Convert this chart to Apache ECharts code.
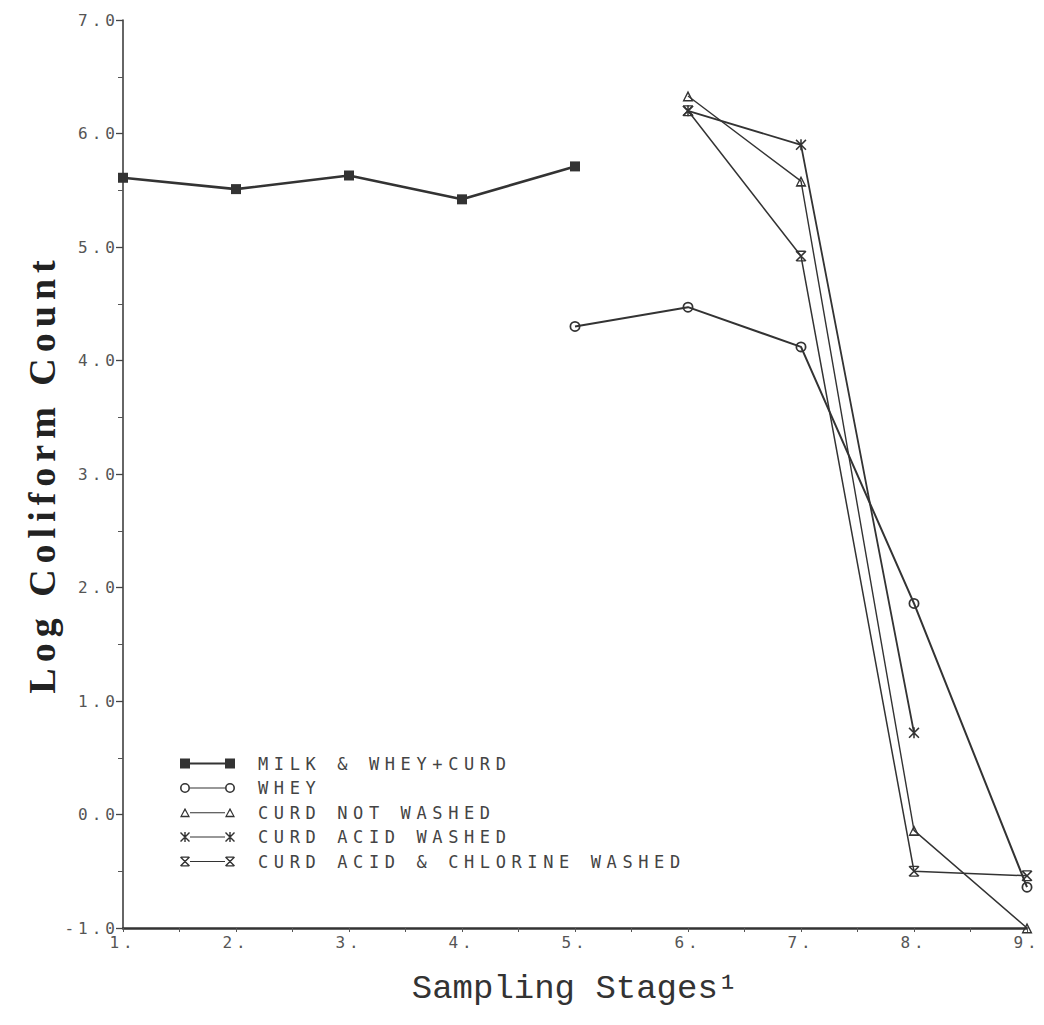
<!DOCTYPE html>
<html>
  <head>
    <meta charset="utf-8" />
    <title>Log Coliform Count by Sampling Stage</title>
    <script src="https://cdn.jsdelivr.net/npm/echarts@6/dist/echarts.min.js"></script>
    <style>
      html, body { margin: 0; padding: 0; background: #fff; }
      #main { width: 1044px; height: 1025px; }
      /* plotter look: spaced-out lettering */
      #main text[style*="DejaVu Sans Mono"][style*="17px"] { letter-spacing: 0.33em; }
      #main text[style*="DejaVu Sans Mono"][style*="16px"] { letter-spacing: 0.25em; }
      #main text[style*="Liberation Serif"] { letter-spacing: 6px; }
    </style>
  </head>
  <body>
    <div id="main"></div>
    <script>
      // data
      var stages = [1, 2, 3, 4, 5, 6, 7, 8, 9]
      var milkWheyCurd = [5.61, 5.51, 5.63, 5.42, 5.71, null, null, null, null]
      var whey = [null, null, null, null, 4.30, 4.47, 4.12, 1.86, -0.64]
      var curdNotWashed = [null, null, null, null, null, 6.33, 5.58, -0.14, -1.0]
      var curdAcidWashed = [null, null, null, null, null, 6.20, 5.90, 0.72, null]
      var curdAcidChlorine = [null, null, null, null, null, 6.20, 4.92, -0.50, -0.54]
      var yTicks = { min: -1, max: 7, step: 1 }

      var seriesNames = [
        'MILK & WHEY+CURD',
        'WHEY',
        'CURD NOT WASHED',
        'CURD ACID WASHED',
        'CURD ACID & CHLORINE WASHED'
      ]

      function pairs(vals) {
        var out = []
        for (var i = 0; i < stages.length; i++) {
          if (vals[i] !== null) out.push([stages[i], vals[i]])
        }
        return out
      }

      // marker shapes, drawn in a 10x10 box starting at dx
      function square(dx) {
        return 'M' + dx + ',0h10v10h-10Z'
      }
      function ring(dx) {
        return 'M' + dx + ',5a5,5 0 1,0 10,0a5,5 0 1,0 -10,0Z' +
          'M' + (dx + 1.6) + ',5a3.4,3.4 0 1,1 6.8,0a3.4,3.4 0 1,1 -6.8,0Z'
      }
      function triangle(dx) {
        return 'M' + (dx + 5) + ',0l5,9.5h-10Z' +
          'M' + (dx + 5) + ',2.8l-3,5.3h6Z'
      }
      function cross(dx) {
        return 'M' + dx + ',1l1,-1l9,9l-1,1Z' +
          'M' + (dx + 9) + ',0l1,1l-9,9l-1,-1Z'
      }
      function asterisk(dx) {
        return cross(dx) + 'M' + (dx + 4.3) + ',0h1.4v10h-1.4Z'
      }
      function barredCross(dx) {
        return cross(dx) + 'M' + (dx + 1) + ',0h8v1.2h-8Z' +
          'M' + (dx + 1) + ',8.8h8v1.2h-8Z'
      }
      var markers = [square, ring, triangle, asterisk, barredCross]
      var lineWidths = [2.6, 2, 1.4, 1.8, 1.5]
      var markerSizes = [10, 11, 11, 11, 11]

      function legendIcon(fn, thick) {
        var h = thick ? 1.1 : 0.6
        return 'path://' + fn(0) +
          'M10,' + (5 - h) + 'h35v' + 2 * h + 'h-35Z' + fn(45)
      }

      var allValues = [milkWheyCurd, whey, curdNotWashed, curdAcidWashed, curdAcidChlorine]
      var series = []
      var legendData = []
      for (var k = 0; k < seriesNames.length; k++) {
        series.push({
          name: seriesNames[k],
          type: 'line',
          data: pairs(allValues[k]),
          clip: false,
          symbol: 'path://' + markers[k](0),
          symbolSize: markerSizes[k],
          itemStyle: { color: '#333' },
          lineStyle: { color: '#333', width: lineWidths[k] },
          emphasis: { disabled: true },
          animation: false
        })
        legendData.push({ name: seriesNames[k], icon: legendIcon(markers[k], k === 0) })
      }

      var plotFont = 'DejaVu Sans Mono'

      var myChart = echarts.init(document.getElementById('main'), null, { renderer: 'svg' })
      var option = {
        backgroundColor: '#fff',
        animation: false,
        grid: { left: 123, right: 17, top: 20, bottom: 97 },
        legend: {
          orient: 'vertical',
          left: 175,
          top: 750,
          itemWidth: 55,
          itemHeight: 10,
          itemGap: 7.5,
          itemStyle: { borderWidth: 0 },
          selectedMode: false,
          data: legendData,
          textStyle: {
            fontFamily: plotFont,
            fontSize: 17,
            lineHeight: 17,
            color: '#444',
            padding: [0, 0, 0, 18]
          }
        },
        xAxis: {
          type: 'value',
          min: 1,
          max: 9,
          interval: 1,
          name: 'Sampling Stages\u00b9',
          nameLocation: 'middle',
          nameGap: 44,
          nameTextStyle: { fontFamily: 'Liberation Mono', fontSize: 34, color: '#333' },
          axisLine: { onZero: false, lineStyle: { color: '#333', width: 2.5 } },
          axisTick: { show: true, inside: false, length: 4, lineStyle: { color: '#555', width: 1 } },
          minorTick: { show: true, splitNumber: 2, length: 4, lineStyle: { color: '#555', width: 1 } },
          splitLine: { show: false },
          axisLabel: {
            fontFamily: plotFont,
            fontSize: 16,
            color: '#555',
            margin: 6,
            formatter: function (v) { return v + '.' }
          }
        },
        yAxis: {
          type: 'value',
          min: yTicks.min,
          max: yTicks.max,
          interval: yTicks.step,
          name: 'Log Coliform Count',
          nameLocation: 'middle',
          nameGap: 62,
          nameTextStyle: {
            fontFamily: 'Liberation Serif',
            fontWeight: 'bold',
            fontSize: 38,
            color: '#222'
          },
          axisLine: { show: true, onZero: false, lineStyle: { color: '#333', width: 1.5 } },
          axisTick: { show: true, inside: false, length: 7, lineStyle: { color: '#444', width: 1.3 } },
          minorTick: { show: true, splitNumber: 2, length: 5, lineStyle: { color: '#555', width: 1 } },
          splitLine: { show: false },
          axisLabel: {
            fontFamily: plotFont,
            fontSize: 16,
            color: '#555',
            margin: 4,
            formatter: function (v) { return v.toFixed(1) }
          }
        },
        series: series
      }
      myChart.setOption(option)
    </script>
  </body>
</html>
